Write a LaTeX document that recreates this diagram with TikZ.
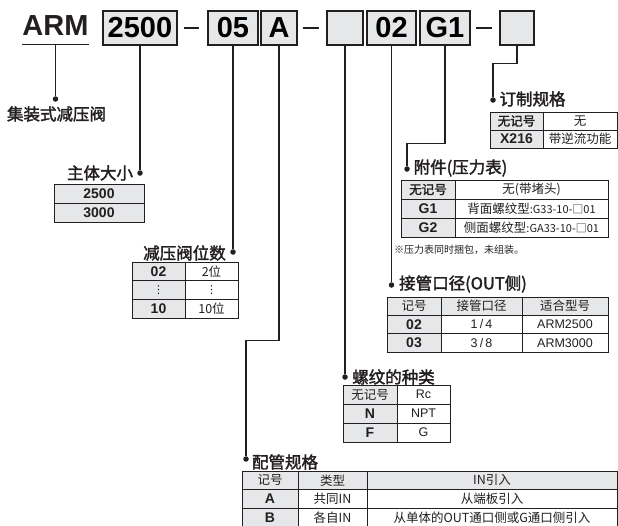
\documentclass[tikz,border=0pt]{standalone}
\usepackage{fontspec}
\setmainfont{Liberation Sans}
\newfontfamily\cjk{Noto Sans CJK SC}
\newfontfamily\cjkm[FakeBold=2]{Noto Sans CJK SC}
\newfontfamily\djv{DejaVu Sans}
\definecolor{ink}{HTML}{231F20}
\definecolor{boxgray}{HTML}{E6E7E8}
\tikzset{
  conn/.style={line width=1.3pt, draw=ink},
  dot/.style={circle, fill=ink, inner sep=0pt, minimum size=5.5pt},
  hbox/.style={draw=ink, line width=1.3pt, fill=boxgray, inner sep=0pt, minimum height=34pt, font=\bfseries\fontsize{29}{29}\selectfont},
  dashline/.style={line width=2.6pt, draw=ink},
  lbl/.style={inner sep=0pt, text=ink, font=\cjkm\fontsize{16.5}{16.5}\selectfont},
  gcell/.style={draw=ink, line width=0.8pt, fill=boxgray, inner sep=0pt, text=ink},
  wcell/.style={draw=ink, line width=0.8pt, fill=white, inner sep=0pt, text=ink},
  bnum/.style={font=\bfseries\fontsize{14}{14}\selectfont},
  rtxt/.style={font=\fontsize{12.5}{12.5}\selectfont},
  ctxt/.style={font=\cjk\fontsize{12.5}{12.5}\selectfont},
  cbtxt/.style={font=\cjkm\fontsize{12.5}{12.5}\selectfont},
}
\begin{document}
\begin{tikzpicture}[x=1pt,y=-1pt]
\useasboundingbox (0,0) rectangle (618,525);
% model code
\node[inner sep=0pt, text=ink, font=\bfseries\fontsize{29}{29}\selectfont] (arm) at (55.5,25.5) {ARM};
\coordinate (armu) at ([yshift=-9pt]arm.south);
\draw[line width=1.3pt, draw=ink] ([yshift=-9pt]arm.south west) -- ([yshift=-9pt]arm.south east);
\node[hbox, minimum width=74pt] (b2500) at (140,28) {2500};
\node[hbox, minimum width=50pt] (b05) at (233,28) {05};
\node[hbox, minimum width=36pt] (bA) at (279,28) {A};
\node[hbox, minimum width=36pt] (bT) at (345,28) {};
\node[hbox, minimum width=49pt] (b02) at (391.5,28) {02};
\node[hbox, minimum width=50pt] (bG) at (445,28) {G1};
\node[hbox, minimum width=34pt] (bX) at (517,28) {};
\draw[dashline] ([xshift=6pt]b2500.east) -- ([xshift=-8pt]b05.west);
\draw[dashline] ([xshift=5pt]bA.east) -- ([xshift=-7pt]bT.west);
\draw[dashline] ([xshift=5pt]bG.east) -- ([xshift=-7pt]bX.west);

% dots
\node[dot] (dM) at (55.5,99) {};
\node[dot] (dS) at (140,173) {};
\node[dot] (dN) at (233,252) {};
\node[dot] (dP) at (246,459) {};
\node[dot] (dT) at (345,377) {};
\node[dot] (dO) at (391.5,285) {};
\node[dot] (dF) at (407,169) {};
\node[dot] (dC) at (493,100) {};

% connectors
\draw[conn] (armu) -- (dM);
\draw[conn] (b2500) -- (dS);
\draw[conn] (b05) -- (dN);
\draw[conn] (bA.south) -- ++(0,295) -| (dP);
\draw[conn] (bT) -- (dT);
\draw[conn] (b02) -- (dO);
\draw[conn] (bG.south) -- ++(0,98) -| (dF);
\draw[conn] (bX.south) -- ++(0,18) -| (dC);

% labels
\node[lbl] (lM) at (56.5,114) {集装式减压阀};
\node[lbl] (lS) at (100,173) {主体大小};
\node[lbl] (lN) at (184.5,253) {减压阀位数};
\node[lbl] (lP) at (285,462) {配管规格};
\node[lbl] (lT) at (393.5,377) {螺纹的种类};
\node[lbl] (lO) at (463,284) {接管口径(OUT侧)};
\node[lbl] (lF) at (460.5,168) {附件(压力表)};
\node[lbl] (lC) at (532.5,99) {订制规格};

% body size
\node[gcell, bnum, minimum width=90pt, minimum height=19pt] (s1) at (99,193.5) {2500};
\node[gcell, bnum, minimum width=90pt, minimum height=19pt] (s2) at (99,212.5) {3000};

% stations
\node[gcell, bnum, minimum width=53pt, minimum height=18.7pt] (n1a) at (158.5,271.3) {02};
\node[wcell, ctxt, minimum width=53pt, minimum height=18.7pt] (n1b) at (211.5,271.3) {2位};
\node[gcell, font=\djv\fontsize{11}{11}\selectfont, minimum width=53pt, minimum height=18.7pt] (n2a) at (158.5,290) {⋮};
\node[wcell, font=\djv\fontsize{11}{11}\selectfont, minimum width=53pt, minimum height=18.7pt] (n2b) at (211.5,290) {⋮};
\node[gcell, bnum, minimum width=53pt, minimum height=18.7pt] (n3a) at (158.5,308.7) {10};
\node[wcell, ctxt, minimum width=53pt, minimum height=18.7pt] (n3b) at (211.5,308.7) {10位};

% piping
\node[gcell, ctxt, minimum width=56pt, minimum height=18.5pt] (p0a) at (270,480.25) {记号};
\node[gcell, ctxt, minimum width=69pt, minimum height=18.5pt] (p0b) at (332.5,480.25) {类型};
\node[gcell, ctxt, minimum width=250pt, minimum height=18.5pt] (p0c) at (492,480.25) {IN引入};
\node[gcell, bnum, minimum width=56pt, minimum height=18.5pt] (p1a) at (270,498.75) {A};
\node[wcell, ctxt, minimum width=69pt, minimum height=18.5pt] (p1b) at (332.5,498.75) {共同IN};
\node[wcell, ctxt, minimum width=250pt, minimum height=18.5pt] (p1c) at (492,498.75) {从端板引入};
\node[gcell, bnum, minimum width=56pt, minimum height=18.5pt] (p2a) at (270,517.25) {B};
\node[wcell, ctxt, minimum width=69pt, minimum height=18.5pt] (p2b) at (332.5,517.25) {各自IN};
\node[wcell, ctxt, minimum width=250pt, minimum height=18.5pt] (p2c) at (492,517.25) {从单体的OUT通口侧或G通口侧引入};

% thread type
\node[gcell, ctxt, minimum width=54pt, minimum height=19pt] (t1a) at (370,394.5) {无记号};
\node[wcell, rtxt, minimum width=53pt, minimum height=19pt] (t1b) at (423.5,394.5) {Rc};
\node[gcell, bnum, minimum width=54pt, minimum height=19pt] (t2a) at (370,413.5) {N};
\node[wcell, rtxt, minimum width=53pt, minimum height=19pt] (t2b) at (423.5,413.5) {NPT};
\node[gcell, bnum, minimum width=54pt, minimum height=19pt] (t3a) at (370,432.5) {F};
\node[wcell, rtxt, minimum width=53pt, minimum height=19pt] (t3b) at (423.5,432.5) {G};

% outlet port size
\node[gcell, ctxt, minimum width=54pt, minimum height=18.3pt] (o0a) at (414,306.2) {记号};
\node[gcell, ctxt, minimum width=81pt, minimum height=18.3pt] (o0b) at (481.5,306.2) {接管口径};
\node[gcell, ctxt, minimum width=86pt, minimum height=18.3pt] (o0c) at (565,306.2) {适合型号};
\node[gcell, bnum, minimum width=54pt, minimum height=18.3pt] (o1a) at (414,324.5) {02};
\node[wcell, rtxt, minimum width=81pt, minimum height=18.3pt] (o1b) at (481.5,324.5) {1\,/\,4};
\node[wcell, rtxt, minimum width=86pt, minimum height=18.3pt] (o1c) at (565,324.5) {ARM2500};
\node[gcell, bnum, minimum width=54pt, minimum height=18.3pt] (o2a) at (414,342.8) {03};
\node[wcell, rtxt, minimum width=81pt, minimum height=18.3pt] (o2b) at (481.5,342.8) {3\,/\,8};
\node[wcell, rtxt, minimum width=86pt, minimum height=18.3pt] (o2c) at (565,342.8) {ARM3000};

% gauge
\node[gcell, cbtxt, minimum width=54pt, minimum height=19pt] (f1a) at (428,189.5) {无记号};
\node[wcell, ctxt, minimum width=153pt, minimum height=19pt] (f1b) at (531.5,189.5) {无(带堵头)};
\node[gcell, bnum, minimum width=54pt, minimum height=19pt] (f2a) at (428,208.5) {G1};
\node[wcell, ctxt, minimum width=153pt, minimum height=19pt] (f2b) at (531.5,208.5) {背面螺纹型{\fontsize{11}{11}\selectfont:G33-10-□01}};
\node[gcell, bnum, minimum width=54pt, minimum height=19pt] (f3a) at (428,227.5) {G2};
\node[wcell, ctxt, minimum width=153pt, minimum height=19pt] (f3b) at (531.5,227.5) {侧面螺纹型{\fontsize{11}{11}\selectfont:GA33-10-□01}};
\node[anchor=west, inner sep=0pt, text=ink, font=\cjk\fontsize{10}{10}\selectfont] (fn) at (394,250) {※压力表同时捆包，未组装。};

% custom spec
\node[gcell, cbtxt, minimum width=53pt, minimum height=18pt] (c1a) at (516.5,121) {无记号};
\node[wcell, ctxt, minimum width=74pt, minimum height=18pt] (c1b) at (580,121) {无};
\node[gcell, bnum, minimum width=53pt, minimum height=18pt] (c2a) at (516.5,139) {X216};
\node[wcell, ctxt, minimum width=74pt, minimum height=18pt] (c2b) at (580,139) {带逆流功能};
\end{tikzpicture}
\end{document}
